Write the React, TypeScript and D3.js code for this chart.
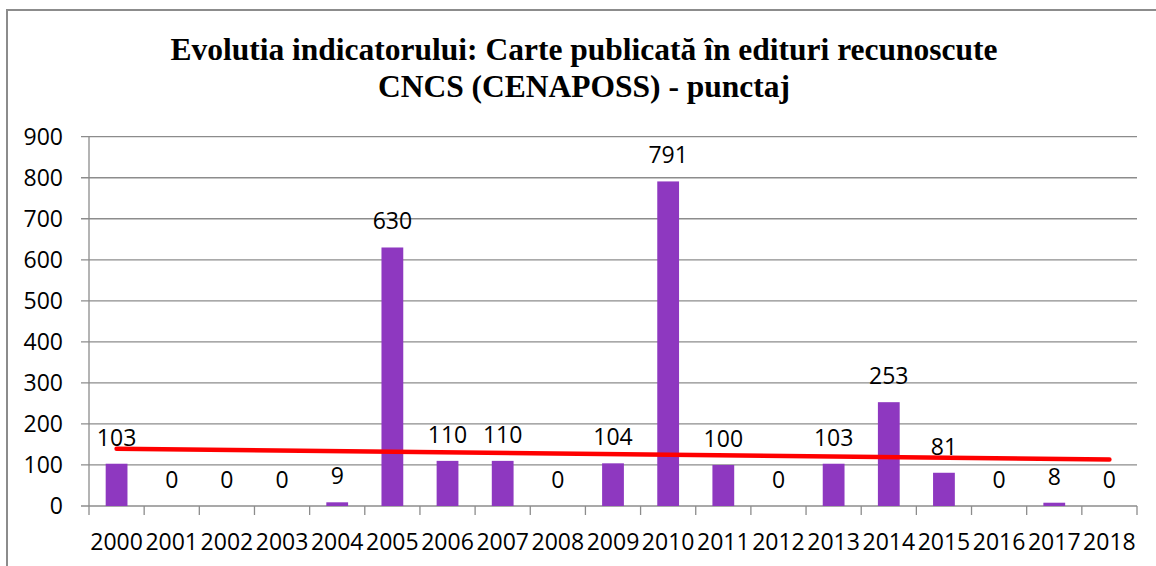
import React, { useEffect, useRef } from 'react';
import * as d3 from 'd3';

const years = ['2000', '2001', '2002', '2003', '2004', '2005', '2006', '2007', '2008', '2009',
  '2010', '2011', '2012', '2013', '2014', '2015', '2016', '2017', '2018'];
const points = [103, 0, 0, 0, 9, 630, 110, 110, 0, 104, 791, 100, 0, 103, 253, 81, 0, 8, 0];
const yTicks = [0, 100, 200, 300, 400, 500, 600, 700, 800, 900];
const titleLines = [
  'Evolutia indicatorului: Carte publicată în edituri recunoscute',
  'CNCS (CENAPOSS) - punctaj',
];

const W = 1156;
const H = 566;
const LABEL_FONT = '"Open Sans", "Liberation Sans", sans-serif';

export default function App() {
  const svgRef = useRef<SVGSVGElement | null>(null);

  useEffect(() => {
    if (!svgRef.current) return;
    document.body.style.margin = '0';

    const svg = d3.select(svgRef.current);
    svg.selectAll('*').remove();

    const left = 89;
    const right = 1137;
    const top = 136.7;
    const bottom = 506;

    const x = d3.scaleBand<string>().domain(years).range([left, right]).paddingInner(0).paddingOuter(0);
    const y = d3.scaleLinear().domain([0, 900]).range([bottom, top]);
    const barW = x.bandwidth() * 0.395;

    // outer chart border
    svg.append('rect')
      .attr('x', 7).attr('y', 10)
      .attr('width', W + 20).attr('height', H + 20)
      .attr('fill', 'white')
      .attr('stroke', '#8c8c8c').attr('stroke-width', 2);

    // title
    const title = svg.append('text')
      .attr('text-anchor', 'middle')
      .attr('font-family', '"Liberation Serif", "Times New Roman", serif')
      .attr('font-weight', 'bold')
      .attr('font-size', 31.5)
      .attr('fill', '#000');
    titleLines.forEach((line, i) => {
      title.append('tspan').attr('x', 584).attr('y', 60 + i * 37).text(line);
    });

    // gridlines
    svg.append('g')
      .selectAll('line')
      .data(yTicks)
      .join('line')
      .attr('x1', left - 8).attr('x2', right)
      .attr('y1', (d) => y(d)).attr('y2', (d) => y(d))
      .attr('stroke', '#8c8c8c').attr('stroke-width', 1.3);

    // y axis line
    svg.append('line')
      .attr('x1', left).attr('x2', left)
      .attr('y1', top).attr('y2', bottom)
      .attr('stroke', '#8c8c8c').attr('stroke-width', 1.3);

    // x axis tick marks at category boundaries
    const bounds = years.map((d) => x(d) as number).concat([right]);
    svg.append('g')
      .selectAll('line')
      .data(bounds)
      .join('line')
      .attr('x1', (d) => d).attr('x2', (d) => d)
      .attr('y1', bottom).attr('y2', bottom + 9)
      .attr('stroke', '#8c8c8c').attr('stroke-width', 1.3);

    // y tick labels
    svg.append('g')
      .selectAll('text')
      .data(yTicks)
      .join('text')
      .attr('x', 63).attr('y', (d) => y(d))
      .attr('dy', '0.35em')
      .attr('text-anchor', 'end')
      .attr('font-family', LABEL_FONT)
      .attr('font-size', 23)
      .attr('fill', '#000')
      .text((d) => d);

    // x tick labels
    svg.append('g')
      .selectAll('text')
      .data(years)
      .join('text')
      .attr('x', (d) => (x(d) as number) + x.bandwidth() / 2)
      .attr('y', 550)
      .attr('text-anchor', 'middle')
      .attr('font-family', LABEL_FONT)
      .attr('font-size', 23)
      .attr('fill', '#000')
      .text((d) => d);

    // bars
    svg.append('g')
      .selectAll('rect')
      .data(points)
      .join('rect')
      .attr('x', (d, i) => (x(years[i]) as number) + x.bandwidth() / 2 - barW / 2)
      .attr('y', (d) => y(d))
      .attr('width', barW)
      .attr('height', (d) => bottom - y(d))
      .attr('fill', '#8e38c0');

    // linear trend line (least squares)
    const n = points.length;
    const mx = d3.mean(d3.range(n)) as number;
    const my = d3.mean(points) as number;
    const sxy = d3.sum(points, (v, i) => (i - mx) * (v - my));
    const sxx = d3.sum(d3.range(n), (i) => (i - mx) * (i - mx));
    const slope = sxy / sxx;
    const icpt = my - slope * mx;
    const trend = [0, n - 1].map((i) => ({ i, v: icpt + slope * i }));
    const line = d3.line<{ i: number; v: number }>()
      .x((d) => (x(years[d.i]) as number) + x.bandwidth() / 2)
      .y((d) => y(d.v));
    svg.append('path')
      .attr('d', line(trend) || '')
      .attr('fill', 'none')
      .attr('stroke', '#ff0000')
      .attr('stroke-width', 4.5)
      .attr('stroke-linecap', 'round');

    // value labels
    svg.append('g')
      .selectAll('text')
      .data(points)
      .join('text')
      .attr('x', (d, i) => (x(years[i]) as number) + x.bandwidth() / 2)
      .attr('y', (d) => y(d) - 18)
      .attr('text-anchor', 'middle')
      .attr('font-family', LABEL_FONT)
      .attr('font-size', 23)
      .attr('fill', '#000')
      .text((d) => d);
  }, []);

  return (
    <svg ref={svgRef} width={W} height={H} style={{ display: 'block', position: 'absolute', left: 0, top: 0 }} />
  );
}
